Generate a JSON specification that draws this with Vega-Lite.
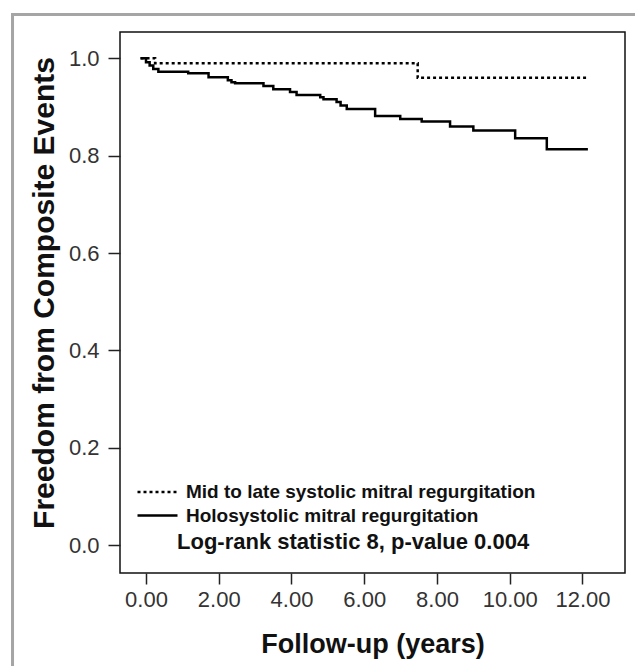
{
  "$schema": "https://vega.github.io/schema/vega-lite/v6.json",
  "width": 505,
  "height": 541,
  "autosize": {"type": "none"},
  "padding": {"left": 120, "top": 32, "right": 10, "bottom": 93},
  "background": "white",
  "config": {
    "font": "Liberation Sans",
    "view": {"stroke": "#111", "strokeWidth": 1.5},
    "axis": {"grid": false, "domain": false, "tickColor": "#222", "tickWidth": 1.5, "labelColor": "#333", "labelFont": "Liberation Sans", "labelFontSize": 22, "titleFont": "Liberation Sans", "titleColor": "#111", "titleFontWeight": "bold"}
  },
  "datasets": {
    "km": [
      {"group": "Mid to late systolic mitral regurgitation", "t": -0.15, "s": 1.0},
      {"group": "Mid to late systolic mitral regurgitation", "t": 0.25, "s": 0.99},
      {"group": "Mid to late systolic mitral regurgitation", "t": 7.47, "s": 0.96},
      {"group": "Mid to late systolic mitral regurgitation", "t": 12.15, "s": 0.96},
      {"group": "Holosystolic mitral regurgitation", "t": -0.15, "s": 1.0},
      {"group": "Holosystolic mitral regurgitation", "t": 0.0, "s": 0.992},
      {"group": "Holosystolic mitral regurgitation", "t": 0.1, "s": 0.985},
      {"group": "Holosystolic mitral regurgitation", "t": 0.2, "s": 0.978},
      {"group": "Holosystolic mitral regurgitation", "t": 0.34, "s": 0.9726},
      {"group": "Holosystolic mitral regurgitation", "t": 1.16, "s": 0.9692},
      {"group": "Holosystolic mitral regurgitation", "t": 1.72, "s": 0.961},
      {"group": "Holosystolic mitral regurgitation", "t": 2.25, "s": 0.955},
      {"group": "Holosystolic mitral regurgitation", "t": 2.35, "s": 0.951},
      {"group": "Holosystolic mitral regurgitation", "t": 2.45, "s": 0.9486},
      {"group": "Holosystolic mitral regurgitation", "t": 3.23, "s": 0.9432},
      {"group": "Holosystolic mitral regurgitation", "t": 3.5, "s": 0.9363},
      {"group": "Holosystolic mitral regurgitation", "t": 3.96, "s": 0.931},
      {"group": "Holosystolic mitral regurgitation", "t": 4.14, "s": 0.9247},
      {"group": "Holosystolic mitral regurgitation", "t": 4.79, "s": 0.92},
      {"group": "Holosystolic mitral regurgitation", "t": 4.88, "s": 0.9158},
      {"group": "Holosystolic mitral regurgitation", "t": 5.24, "s": 0.91},
      {"group": "Holosystolic mitral regurgitation", "t": 5.35, "s": 0.903},
      {"group": "Holosystolic mitral regurgitation", "t": 5.52, "s": 0.896},
      {"group": "Holosystolic mitral regurgitation", "t": 6.3, "s": 0.8816},
      {"group": "Holosystolic mitral regurgitation", "t": 6.99, "s": 0.8755},
      {"group": "Holosystolic mitral regurgitation", "t": 7.58, "s": 0.87},
      {"group": "Holosystolic mitral regurgitation", "t": 8.36, "s": 0.8597},
      {"group": "Holosystolic mitral regurgitation", "t": 9.0, "s": 0.8515},
      {"group": "Holosystolic mitral regurgitation", "t": 10.15, "s": 0.8358},
      {"group": "Holosystolic mitral regurgitation", "t": 11.02, "s": 0.8132},
      {"group": "Holosystolic mitral regurgitation", "t": 12.15, "s": 0.8132}
    ],
    "note": [{"label": "Log-rank statistic 8, p-value 0.004"}],
    "frame": [{"name": "frame"}]
  },
  "layer": [
    {
      "data": {"name": "frame"},
      "mark": {"type": "rect", "fill": null, "stroke": "#a5a5a5", "strokeWidth": 3, "clip": false},
      "encoding": {
        "x": {"datum": -3.67, "type": "quantitative"},
        "x2": {"datum": 25},
        "y": {"datum": 1.0898, "type": "quantitative"},
        "y2": {"datum": -1.0}
      }
    },
    {
      "data": {"name": "km"},
      "mark": {"type": "line", "interpolate": "step-after", "color": "black", "strokeWidth": 2.5, "strokeCap": "butt"},
      "encoding": {
        "x": {
          "field": "t", "type": "quantitative",
          "scale": {"domain": [-0.715, 13.17], "nice": false, "zero": false},
          "axis": {"values": [0, 2, 4, 6, 8, 10, 12], "format": ".2f", "tickSize": 11, "labelPadding": 5, "title": "Follow-up (years)", "titleFontSize": 27, "titleX": 252.5, "titleY": 79, "titleBaseline": "alphabetic", "titleAlign": "center"}
        },
        "y": {
          "field": "s", "type": "quantitative",
          "scale": {"domain": [-0.057, 1.054], "nice": false, "zero": false},
          "axis": {"values": [0, 0.2, 0.4, 0.6, 0.8, 1.0], "format": ".1f", "tickSize": 12, "labelPadding": 9, "title": "Freedom from Composite Events", "titleFontSize": 30, "titleAngle": -90, "titleX": -67, "titleY": 260.5, "titleBaseline": "alphabetic", "titleAlign": "center"}
        },
        "strokeDash": {
          "field": "group", "type": "nominal",
          "scale": {"domain": ["Mid to late systolic mitral regurgitation", "Holosystolic mitral regurgitation"], "range": [[3, 3], [1, 0]]},
          "legend": {"title": null, "orient": "none", "legendX": 28, "legendY": 450.5, "padding": 0, "rowPadding": 3.5, "symbolType": "M-4,0H4", "symbolSize": 100, "symbolStrokeWidth": 2.5, "symbolStrokeColor": "black", "symbolFillColor": "transparent", "labelFont": "Liberation Sans", "labelFontSize": 19, "labelFontWeight": "bold", "labelColor": "#111", "labelOffset": 19, "labelLimit": 500}
        }
      }
    },
    {
      "data": {"name": "note"},
      "mark": {"type": "text", "align": "left", "baseline": "alphabetic", "fontSize": 22, "fontWeight": "bold", "color": "#111", "font": "Liberation Sans"},
      "encoding": {
        "x": {"datum": 0.8526, "type": "quantitative"},
        "y": {"datum": -0.0074, "type": "quantitative"},
        "text": {"field": "label"}
      }
    }
  ]
}
